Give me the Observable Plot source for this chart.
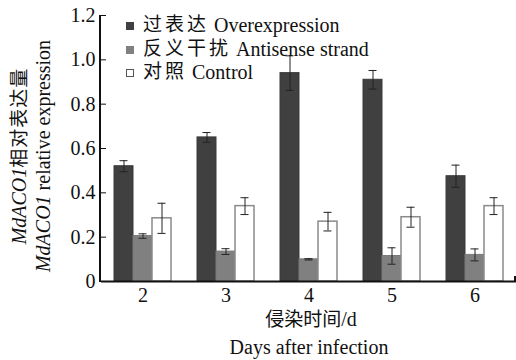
<!DOCTYPE html>
<html>
<head>
<meta charset="utf-8">
<script src="https://cdn.jsdelivr.net/npm/d3@7"></script>
<script src="https://cdn.jsdelivr.net/npm/@observablehq/plot@0.6"></script>
<style>
  html, body { margin: 0; padding: 0; background: #fff; }
  #chart { position: relative; width: 516px; height: 360px; }
  #legend { position: absolute; left: 126px; top: 14px; font-family: "Liberation Serif", serif; font-size: 20px; color: #111; }
  #legend .row { height: 23.6px; line-height: 22px; white-space: nowrap; overflow: visible; }
  #legend .txt { display: inline-block; height: 22px; line-height: 22px; overflow: visible; vertical-align: top; }
  #legend .cjk { font-family: "Liberation Serif", "Noto Sans CJK SC"; font-size: 19px; letter-spacing: 3px; }
  #legend .sw { display: inline-block; width: 8px; height: 8px; margin: 8px 9px 0 0; vertical-align: top; box-sizing: border-box; }
</style>
</head>
<body>
<div id="chart"><div id="legend"></div></div>
<script>
const days = [2, 3, 4, 5, 6];
const seriesNames = ["过表达 Overexpression", "反义干扰 Antisense strand", "对照 Control"];
const overexpression = [0.52, 0.65, 0.94, 0.91, 0.475];
const overexpressionErr = [0.025, 0.022, 0.078, 0.042, 0.05];
const antisense = [0.205, 0.135, 0.10, 0.115, 0.12];
const antisenseErr = [0.01, 0.013, 0.003, 0.037, 0.027];
const control = [0.285, 0.34, 0.27, 0.29, 0.34];
const controlErr = [0.068, 0.038, 0.042, 0.045, 0.038];
const yTicks = [0, 0.2, 0.4, 0.6, 0.8, 1.0, 1.2];

const fills = ["#404040", "#808080", "#ffffff"];
const strokes = ["#3a3a3a", "#7a7a7a", "#8a8a8a"];
const seriesValues = [overexpression, antisense, control];
const seriesErrs = [overexpressionErr, antisenseErr, controlErr];

const data = days.flatMap((d, i) => seriesNames.map((s, k) => ({
  day: d, series: s, k, value: seriesValues[k][i], err: seriesErrs[k][i]
})));

const serif = "'Liberation Serif', serif";
const cjk = "'Liberation Serif', 'Noto Sans CJK SC'";

const plot = Plot.plot({
  width: 516, height: 360,
  marginLeft: 100, marginRight: 0, marginTop: 15, marginBottom: 79,
  style: { fontFamily: serif, fontSize: "20px", background: "white", color: "#111", overflow: "visible" },
  fx: { domain: days, paddingInner: 0, paddingOuter: 0, label: null },
  x: { domain: seriesNames, paddingInner: 0, paddingOuter: 0.68, axis: null },
  y: { domain: [0, 1.2], axis: null },
  marks: [
    ...seriesNames.map((s, k) => Plot.barY(data.filter(d => d.k === k), {
      fx: "day", x: "series", y: "value",
      fill: fills[k], stroke: strokes[k], strokeWidth: k === 2 ? 1.5 : 1
    })),
    Plot.ruleX(data, { fx: "day", x: "series", y1: d => d.value - d.err, y2: d => d.value + d.err, stroke: "#222", strokeWidth: 1 }),
    Plot.tickY(data, { fx: "day", x: "series", y: d => d.value - d.err, stroke: "#222", strokeWidth: 1, insetLeft: 5.5, insetRight: 5.5 }),
    Plot.tickY(data, { fx: "day", x: "series", y: d => d.value + d.err, stroke: "#222", strokeWidth: 1, insetLeft: 5.5, insetRight: 5.5 }),
    Plot.ruleY([0], { stroke: "#111", strokeWidth: 2 }),
    Plot.axisY({ ticks: yTicks, tickSize: -5, tickPadding: 11, tickFormat: d => d === 0 ? "0" : d.toFixed(1), fontSize: 20, label: null, stroke: "#111" }),
    Plot.axisFx({ anchor: "bottom", tickSize: 0, tickPadding: 6, fontSize: 20, label: null })
  ]
});

const svg = d3.select(plot);
const y = plot.scale("y");
const y0 = y.apply(0), yTop = y.apply(1.2);
// y axis line
svg.append("line").attr("x1", 100).attr("x2", 100).attr("y1", yTop).attr("y2", y0 + 1)
  .attr("stroke", "#111").attr("stroke-width", 2);
// right end small tick
svg.append("line").attr("x1", 515).attr("x2", 515).attr("y1", y0 - 5).attr("y2", y0)
  .attr("stroke", "#111").attr("stroke-width", 2);

// y axis titles
const yc = (yTop + y0) / 2 + 8;
const t1 = svg.append("text").attr("transform", `translate(26,${yc}) rotate(-90)`)
  .attr("text-anchor", "middle").attr("font-family", serif).attr("font-size", 20).attr("fill", "#111");
t1.append("tspan").attr("font-style", "italic").text("MdACO1");
t1.append("tspan").attr("font-family", cjk).attr("font-size", 19).attr("letter-spacing", 1).text("相对表达量");
const t2 = svg.append("text").attr("transform", `translate(50,${yc}) rotate(-90)`)
  .attr("text-anchor", "middle").attr("font-family", serif).attr("font-size", 20).attr("fill", "#111");
t2.append("tspan").attr("font-style", "italic").text("MdACO1");
t2.append("tspan").text(" relative expression");

// x axis titles
const xt1 = svg.append("text").attr("x", 311).attr("y", 326).attr("text-anchor", "middle")
  .attr("font-family", serif).attr("font-size", 20).attr("fill", "#111");
xt1.append("tspan").attr("font-family", cjk).attr("font-size", 19).text("侵染时间");
xt1.append("tspan").text("/d");
svg.append("text").attr("x", 309).attr("y", 354).attr("text-anchor", "middle")
  .attr("font-family", serif).attr("font-size", 20).attr("fill", "#111").text("Days after infection");

document.getElementById("chart").prepend(plot);

// legend
const legend = d3.select("#legend");
seriesNames.forEach((s, k) => {
  const i = s.indexOf(" ");
  const row = legend.append("div").attr("class", "row");
  row.append("span").attr("class", "sw")
    .style("background", fills[k])
    .style("border", k === 2 ? "1px solid #555" : "none");
  row.append("span").attr("class", "txt cjk").text(s.slice(0, i));
  row.append("span").attr("class", "txt").html("&nbsp;" + s.slice(i + 1));
});
</script>
</body>
</html>
